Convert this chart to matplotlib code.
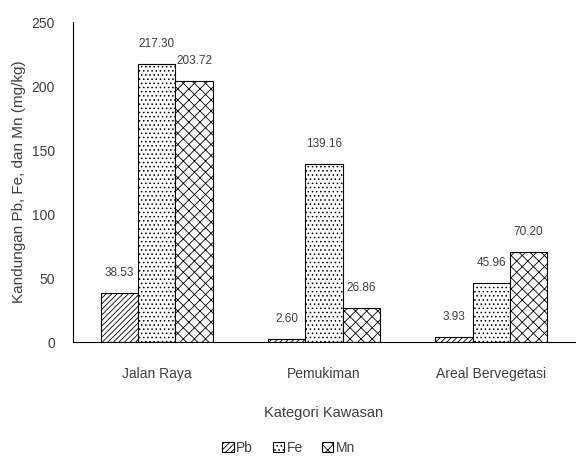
import numpy as np
import matplotlib
matplotlib.use('Agg')
import matplotlib.pyplot as plt
from matplotlib import font_manager

categories = ['Jalan Raya', 'Pemukiman', 'Areal Bervegetasi']
series_names = ['Pb', 'Fe', 'Mn']
pb = [38.53, 2.60, 3.93]
fe = [217.30, 139.16, 45.96]
mn = [203.72, 26.86, 70.20]
yticks = [0, 50, 100, 150, 200, 250]

# narrow font like Arial Narrow if we have it
names = {f.name for f in font_manager.fontManager.ttflist}
narrow = 'Liberation Sans Narrow' if 'Liberation Sans Narrow' in names else 'Liberation Sans'
plt.rcParams['font.family'] = [narrow, 'DejaVu Sans']
plt.rcParams['hatch.linewidth'] = 0.6

fig = plt.figure(figsize=(5.76, 4.61), dpi=100)
ax = fig.add_axes([0.127, 0.258, 0.871, 0.694])

x = np.arange(len(categories))
w = 0.223
hatches = ['//////', '....', 'xxx']
for i, (name, vals) in enumerate(zip(series_names, [pb, fe, mn])):
    bars = ax.bar(x + (i - 1) * w, vals, w, label=name, color='white',
                  edgecolor='black', hatch=hatches[i], linewidth=0.8)
    for b, v in zip(bars, vals):
        ax.annotate(f'{v:.2f}', (b.get_x() + b.get_width() / 2, v),
                    xytext=(0, 10), textcoords='offset points',
                    ha='center', va='bottom', fontsize=8.5, color='#404040')

ax.set_xlim(-0.5, 2.5)
ax.set_ylim(0, 250)
ax.set_yticks(yticks)
ax.set_xticks(x)
ax.set_xticklabels(categories, fontsize=10)
ax.tick_params(axis='both', length=0, labelsize=10, colors='#404040')
ax.tick_params(axis='x', pad=18)
ax.tick_params(axis='y', pad=13)
for s in ['top', 'right']:
    ax.spines[s].set_visible(False)
ax.spines['left'].set_linewidth(0.8)
ax.spines['bottom'].set_linewidth(0.8)

ax.set_xlabel('Kategori Kawasan', fontsize=10.5, labelpad=18, color='#404040')
ax.set_ylabel('Kandungan Pb, Fe, dan Mn (mg/kg)', fontsize=11,
              family=['Liberation Sans', 'DejaVu Sans'], color='#404040')

ax.legend(loc='upper center', bbox_to_anchor=(0.43, -0.27), ncol=3, frameon=False,
          fontsize=10, handlelength=0.8, handleheight=0.8, handletextpad=0.2,
          columnspacing=1.4, labelcolor='#404040')

fig.savefig('out.png', dpi=100)
